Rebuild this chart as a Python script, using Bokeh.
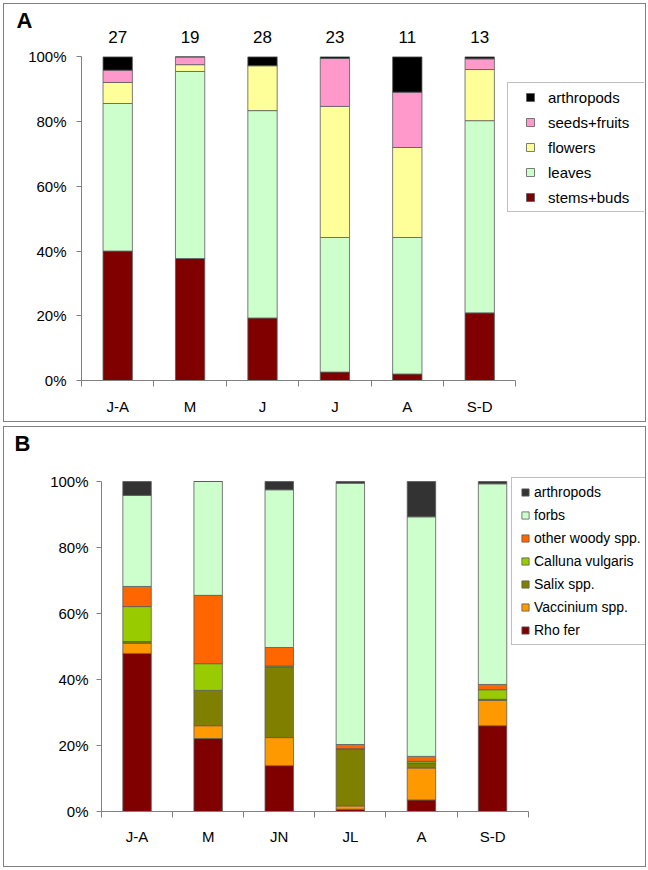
from bokeh.plotting import figure
from bokeh.models import (ColumnDataSource, FixedTicker, LinearAxis, Legend,
                          LegendItem, Range1d)
from bokeh.layouts import column
from bokeh.embed import file_html
from bokeh.resources import INLINE

FONT = "Liberation Sans"
GREY = "#808080"
EDGE = "#5a5a5a"

# ---------------- Panel A data ----------------
a_months = ["J-A", "M", "J", "J", "A", "S-D"]
a_counts = ["27", "19", "28", "23", "11", "13"]
a_series = ["stems+buds", "leaves", "flowers", "seeds+fruits", "arthropods"]
a_colors = ["#800000", "#CCFFCC", "#FFFF99", "#FF99CC", "#000000"]
a_stems = [40.0, 37.7, 19.3, 2.6, 2.0, 20.9]
a_leaves = [45.6, 57.8, 64.1, 41.6, 42.2, 59.4]
a_flowers = [6.5, 2.1, 13.9, 40.5, 27.8, 15.8]
a_seeds = [3.8, 2.4, 0.0, 14.8, 17.1, 3.3]
a_arthropods = [4.1, 0.0, 2.7, 0.5, 10.9, 0.6]

# ---------------- Panel B data ----------------
b_months = ["J-A", "M", "JN", "JL", "A", "S-D"]
b_series = ["Rho fer", "Vaccinium spp.", "Salix spp.", "Calluna vulgaris",
            "other woody spp.", "forbs", "arthropods"]
b_colors = ["#800000", "#FF9900", "#808000", "#99CC00", "#FF6600", "#CCFFCC", "#333333"]
b_rho = [47.9, 22.1, 13.9, 0.7, 3.5, 26.0]
b_vaccinium = [3.1, 3.9, 8.5, 1.0, 9.7, 7.7]
b_salix = [0.5, 10.7, 21.4, 17.3, 1.5, 0.3]
b_calluna = [10.6, 8.1, 0.3, 0.0, 0.5, 2.9]
b_otherwoody = [6.1, 20.7, 5.6, 1.3, 1.5, 1.6]
b_forbs = [27.6, 34.5, 47.8, 79.2, 72.6, 60.8]
b_arthropods = [4.2, 0.0, 2.5, 0.5, 10.7, 0.7]

y_ticks = [0, 20, 40, 60, 80, 100]


def build(months, names, values, colors, counts, letter, cfg):
    W, H = cfg["W"], cfg["H"]
    bl, br, bt, bb = cfg["borders"]
    frame_w = W - bl - br
    frame_h = H - bt - bb
    cat_px = cfg["cat_px"]
    pct_px = cfg["pct_px"]
    n = len(months)
    xs = list(range(1, n + 1))
    data = {"x": xs, "top": [100] * n}
    if counts is not None:
        data["n"] = counts
    keys = []
    for i, v in enumerate(values):
        k = "s%d" % i
        data[k] = v
        keys.append(k)
    src = ColumnDataSource(data)

    p = figure(width=W, height=H, output_backend="svg", toolbar_location=None,
               x_range=Range1d(0.5, 0.5 + frame_w / cat_px),
               y_range=Range1d(0, frame_h / pct_px),
               min_border_left=bl, min_border_right=br,
               min_border_top=bt, min_border_bottom=bb,
               x_axis_type=None, y_axis_type=None)
    p.outline_line_color = None
    p.background_fill_color = "white"
    p.border_fill_color = "white"

    p.vbar_stack(keys, x="x", width=cfg["bar_w"], fill_color=colors,
                 line_color=EDGE, line_width=0.8, source=src)

    # hidden helper renderers that only provide the legend swatches
    leg_rs = []
    for k, c in zip(keys, colors):
        r = p.scatter(x="x", y=k, source=src, marker="square", size=8,
                      fill_color=c, line_color=EDGE, line_width=0.8, visible=False)
        leg_rs.append(r)

    if counts is not None:
        p.text(x="x", y="top", text="n", source=src, y_offset=-20,
               text_align="center", text_baseline="middle",
               text_font={"value": FONT}, text_font_size="17px", text_color="black")

    # y axis (percent)
    yax = LinearAxis(ticker=FixedTicker(ticks=y_ticks, minor_ticks=[]),
                     major_label_overrides={t: "%d%%" % t for t in y_ticks},
                     bounds=(0, 100))
    yax.axis_line_color = GREY
    yax.major_tick_line_color = GREY
    yax.major_tick_out = 5
    yax.major_tick_in = 0
    yax.minor_tick_line_color = None
    yax.major_label_standoff = cfg["ystand"]
    yax.major_label_text_font = FONT
    yax.major_label_text_font_size = "15px"
    yax.major_label_text_color = "black"
    p.add_layout(yax, "left")

    # outer left axis that carries only the panel letter
    letter_y = (frame_h - cfg["letter_from_top"]) / pct_px
    lax = LinearAxis(ticker=FixedTicker(ticks=[letter_y], minor_ticks=[]),
                     major_label_overrides={letter_y: letter})
    lax.axis_line_color = None
    lax.major_tick_line_color = None
    lax.minor_tick_line_color = None
    lax.major_tick_out = 0
    lax.major_tick_in = 0
    lax.major_label_standoff = cfg["lstand"]
    lax.major_label_text_font = FONT
    lax.major_label_text_font_size = "22px"
    lax.major_label_text_font_style = "bold"
    lax.major_label_text_color = "black"
    p.add_layout(lax, "left")

    # x axis: labels at category centres, ticks at category boundaries
    bounds = [x - 0.5 for x in xs] + [xs[-1] + 0.5]
    xax = LinearAxis(ticker=FixedTicker(ticks=xs, minor_ticks=bounds),
                     major_label_overrides={x: m for x, m in zip(xs, months)},
                     bounds=(0.5, n + 0.5))
    xax.axis_line_color = GREY
    xax.major_tick_line_color = None
    xax.major_tick_out = 0
    xax.major_tick_in = 0
    xax.minor_tick_line_color = GREY
    xax.minor_tick_out = 6
    xax.minor_tick_in = 0
    xax.major_label_standoff = cfg["xstand"]
    xax.major_label_text_font = FONT
    xax.major_label_text_font_size = "15px"
    xax.major_label_text_color = "black"
    p.add_layout(xax, "below")

    leg = cfg["legend"]
    items = [LegendItem(label=nm, renderers=[r])
             for nm, r in reversed(list(zip(names, leg_rs)))]
    legend = Legend(items=items, location=leg["loc"], padding=leg["pad"],
                    spacing=leg["spacing"], glyph_width=leg["gw"], glyph_height=20,
                    label_height=20, label_width=leg["lw"],
                    label_standoff=leg["standoff"], margin=0,
                    label_text_font=FONT, label_text_font_size=leg["fs"],
                    label_text_color="black",
                    border_line_color=GREY, border_line_width=1,
                    background_fill_color="white", background_fill_alpha=1.0)
    p.add_layout(legend)

    box = column(p, margin=cfg["margin"],
                 styles={"border": "1px solid #808080"})
    return box


pA = build(a_months, a_series,
           [a_stems, a_leaves, a_flowers, a_seeds, a_arthropods],
           a_colors, a_counts, "A",
           {"W": 641, "H": 417, "borders": (77, 1, 1, 41), "margin": (3, 0, 0, 3),
            "cat_px": 72.4, "pct_px": 3.236, "bar_w": 0.405,
            "xstand": 11, "ystand": 10, "lstand": -7, "letter_from_top": 15,
            "legend": {"loc": (426, 168), "pad": 4, "spacing": 5, "gw": 36,
                       "lw": 92, "standoff": -6, "fs": "15px"}})

pB = build(b_months, b_series,
           [b_rho, b_vaccinium, b_salix, b_calluna, b_otherwoody, b_forbs,
            b_arthropods],
           b_colors, None, "B",
           {"W": 641, "H": 439, "borders": (97, 0, 1, 55), "margin": (4, 0, 0, 3),
            "cat_px": 71.1, "pct_px": 3.30, "bar_w": 0.40,
            "xstand": 10, "ystand": 8, "lstand": 17, "letter_from_top": 15,
            "legend": {"loc": (410, 166), "pad": 4, "spacing": 3, "gw": 18,
                       "lw": 104, "standoff": 0, "fs": "14px"}})

open("out.html", "w").write(file_html([pA, pB], INLINE))
